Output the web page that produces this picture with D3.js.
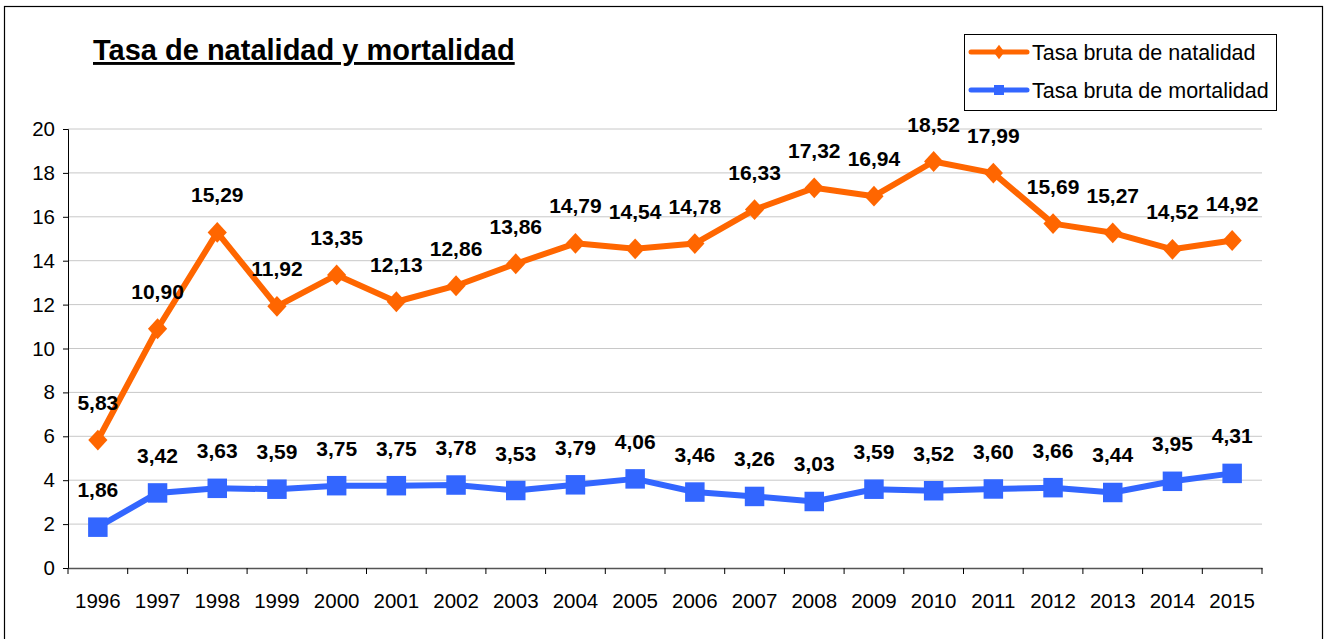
<!DOCTYPE html>
<html>
<head>
<meta charset="utf-8">
<script src="https://cdn.jsdelivr.net/npm/d3@7"></script>
<style>
  body { margin: 0; background: #fff; }
  text { font-family: Arial, "Liberation Sans", sans-serif; }
</style>
</head>
<body>
<script>
const years = ['1996','1997','1998','1999','2000','2001','2002','2003','2004','2005',
  '2006','2007','2008','2009','2010','2011','2012','2013','2014','2015'];
const natalidad = [5.83, 10.90, 15.29, 11.92, 13.35, 12.13, 12.86, 13.86, 14.79, 14.54,
  14.78, 16.33, 17.32, 16.94, 18.52, 17.99, 15.69, 15.27, 14.52, 14.92];
const mortalidad = [1.86, 3.42, 3.63, 3.59, 3.75, 3.75, 3.78, 3.53, 3.79, 4.06,
  3.46, 3.26, 3.03, 3.59, 3.52, 3.60, 3.66, 3.44, 3.95, 4.31];
const yTicks = [0, 2, 4, 6, 8, 10, 12, 14, 16, 18, 20];

const svgWidth = 1329, svgHeight = 639;
const margin = {top: 129, right: 67, bottom: 71, left: 68};
const width = svgWidth - margin.left - margin.right;
const height = svgHeight - margin.top - margin.bottom;

const es = d3.formatLocale({decimal: ',', thousands: '.', grouping: [3], currency: ['', '€']});
const fmt = es.format('.2f');

const svg = d3.select('body').append('svg')
  .attr('width', svgWidth)
  .attr('height', svgHeight);

// outer frame
svg.append('rect')
  .attr('x', 4.5).attr('y', 6.5)
  .attr('width', 1318).attr('height', 660)
  .attr('fill', 'none').attr('stroke', '#000').attr('stroke-width', 1.2);

const xScale = d3.scaleBand().domain(years).range([0, width]);
const yScale = d3.scaleLinear().domain([0, 20]).range([height, 0]);

const g = svg.append('g')
  .attr('transform', 'translate(' + margin.left + ',' + margin.top + ')');

// grid
g.append('g').selectAll('line')
  .data(yTicks.filter(d => d > 0))
  .enter().append('line')
  .attr('x1', 0).attr('x2', width)
  .attr('y1', d => yScale(d)).attr('y2', d => yScale(d))
  .attr('stroke', '#c8c8c8').attr('stroke-width', 1);

// y axis
const gY = g.append('g')
  .call(d3.axisLeft(yScale).tickValues(yTicks).tickSize(5).tickPadding(8).tickFormat(d3.format('d')));
gY.select('.domain').attr('stroke', '#000');
gY.selectAll('.tick line').attr('stroke', '#000');
gY.selectAll('text').style('font-size', '20.5px').attr('fill', '#000');

// x axis with ticks at band boundaries
const gX = g.append('g')
  .attr('transform', 'translate(0,' + height + ')')
  .call(d3.axisBottom(xScale).tickSize(0).tickPadding(25));
gX.select('.domain').attr('stroke', '#555').attr('stroke-width', 1.5);
gX.selectAll('text').style('font-size', '20.5px').attr('fill', '#000');
gX.selectAll('.bound').data(d3.range(years.length + 1))
  .enter().append('line')
  .attr('x1', i => i * xScale.bandwidth()).attr('x2', i => i * xScale.bandwidth())
  .attr('y1', 0).attr('y2', 6)
  .attr('stroke', '#000');

const cx = d => xScale(d) + xScale.bandwidth() / 2;

const series = [
  {name: 'Tasa bruta de natalidad', values: natalidad, color: '#FF6600', marker: d3.symbolDiamond, size: 125},
  {name: 'Tasa bruta de mortalidad', values: mortalidad, color: '#3366FF', marker: d3.symbolSquare, size: 380}
];

const line = d3.line()
  .x(d => cx(d.year))
  .y(d => yScale(d.v));

series.forEach(s => {
  const pts = years.map((y, i) => ({year: y, v: s.values[i]}));
  g.append('path')
    .datum(pts)
    .attr('d', line)
    .attr('fill', 'none')
    .attr('stroke', s.color)
    .attr('stroke-width', 6)
    .attr('stroke-linejoin', 'round');
  g.selectAll(null).data(pts).enter().append('path')
    .attr('d', d3.symbol().type(s.marker).size(s.size))
    .attr('transform', d => 'translate(' + cx(d.year) + ',' + yScale(d.v) + ')' +
      (s.marker === d3.symbolDiamond ? ' scale(1.6,1)' : ''))
    .attr('fill', s.color);
  g.selectAll(null).data(pts).enter().append('text')
    .attr('x', d => cx(d.year))
    .attr('y', d => yScale(d.v) - 30)
    .attr('text-anchor', 'middle')
    .style('font-size', '21px')
    .style('font-weight', 'bold')
    .text(d => fmt(d.v));
});

// title
svg.append('text')
  .attr('x', 93).attr('y', 60)
  .style('font-size', '29px')
  .style('font-weight', 'bold')
  .style('text-decoration', 'underline')
  .text('Tasa de natalidad y mortalidad');

// legend
const legend = svg.append('g').attr('transform', 'translate(964,34)');
legend.append('rect')
  .attr('x', 0.5).attr('y', 0.5).attr('width', 312).attr('height', 76)
  .attr('fill', '#fff').attr('stroke', '#000');
series.forEach((s, i) => {
  const ly = 18 + i * 38;
  legend.append('line')
    .attr('x1', 7).attr('x2', 63).attr('y1', ly).attr('y2', ly)
    .attr('stroke', s.color).attr('stroke-width', 5).attr('stroke-linecap', 'round');
  legend.append('path')
    .attr('d', d3.symbol().type(s.marker).size(s.marker === d3.symbolDiamond ? 60 : 100))
    .attr('transform', 'translate(35,' + ly + ')' + (s.marker === d3.symbolDiamond ? ' scale(1.3,1)' : ''))
    .attr('fill', s.color);
  legend.append('text')
    .attr('x', 68).attr('y', ly + 8)
    .style('font-size', '21.5px')
    .text(s.name);
});
</script>
</body>
</html>
